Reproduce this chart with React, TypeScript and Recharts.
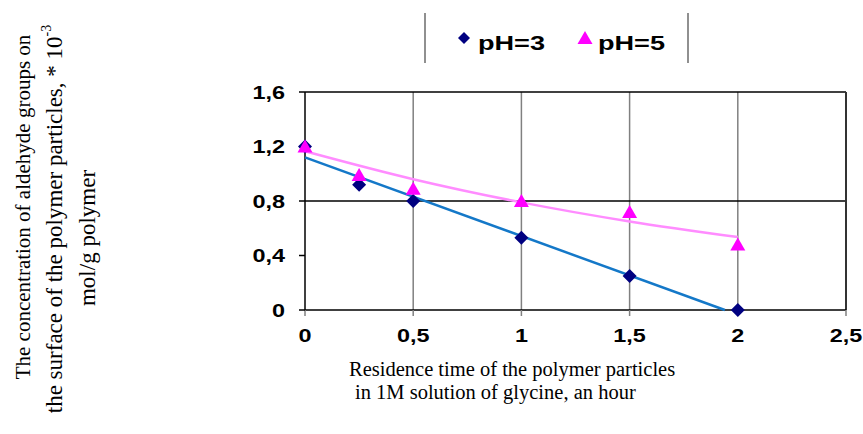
import React from "react";
import {
  CartesianGrid,
  Legend,
  ReferenceLine,
  Scatter,
  ScatterChart,
  XAxis,
  YAxis,
} from "recharts";

// residence time, hours
const times = [0, 0.25, 0.5, 1, 1.5, 2];
// aldehyde groups, *10^-3 mol/g
const ph3 = [1.2, 0.92, 0.8, 0.53, 0.25, 0];
const ph5 = [1.2, 0.99, 0.89, 0.8, 0.72, 0.48];

// trend lines
const fit3X = [0, 1.94];
const fit3Y = [1.12, 0];
const fit5X = [0, 0.5, 1, 1.5, 2];
const fit5Y = [1.165, 0.96, 0.79, 0.65, 0.535];

const xTicks = [0, 0.5, 1, 1.5, 2, 2.5];
const yTicks = [0, 0.4, 0.8, 1.2, 1.6];

const legendItems = [
  { name: "pH=3", marker: "diamond" },
  { name: "pH=5", marker: "triangle" },
];

const toPoints = (xs: number[], ys: number[]) => xs.map((x, i) => ({ x, y: ys[i] }));
const dataPh3 = toPoints(times, ph3);
const dataPh5 = toPoints(times, ph5);
const dataFit3 = toPoints(fit3X, fit3Y);
const dataFit5 = toPoints(fit5X, fit5Y);

const SANS = "'Liberation Sans', Arial, sans-serif";
const SERIF = "'Liberation Serif', 'Times New Roman', serif";
const NAVY = "#000080";
const MAGENTA = "#FF00FF";

const fmt = (v: number) => String(v).replace(".", ",");

const Diamond = (props: any) => {
  const { cx, cy } = props;
  const r = props.r ?? 7;
  return <polygon points={`${cx},${cy - r} ${cx + r},${cy} ${cx},${cy + r} ${cx - r},${cy}`} fill={NAVY} />;
};

const Triangle = (props: any) => {
  const { cx, cy } = props;
  return <polygon points={`${cx},${cy - 7} ${cx + 7.5},${cy + 6} ${cx - 7.5},${cy + 6}`} fill={MAGENTA} />;
};

const NoShape = () => <g />;

const XTick = (props: any) => {
  const { x, y, payload } = props;
  return (
    <g transform={`translate(${x},${y})`}>
      <text transform="scale(1.3,1)" textAnchor="middle" dy={22} fontFamily={SANS} fontWeight="bold" fontSize={18} fill="#000">
        {fmt(payload.value)}
      </text>
    </g>
  );
};

const YTick = (props: any) => {
  const { x, y, payload } = props;
  return (
    <g transform={`translate(${x},${y})`}>
      <text transform="scale(1.3,1)" textAnchor="end" dy={6.5} fontFamily={SANS} fontWeight="bold" fontSize={18} fill="#000">
        {fmt(payload.value)}
      </text>
    </g>
  );
};

const YTitle = () => (
  <g fontFamily={SERIF} fill="#000">
    <text transform="translate(23,207) rotate(-90)" textAnchor="middle" dominantBaseline="central" fontSize={21}>
      The concentration of aldehyde groups on
    </text>
    <text transform="translate(54,219) rotate(-90)" textAnchor="middle" dominantBaseline="central" fontSize={23}>
      the surface of the polymer particles, * 10
      <tspan dy={-8} fontSize={14}>-3</tspan>
    </text>
    <text transform="translate(87,238) rotate(-90)" textAnchor="middle" dominantBaseline="central" fontSize={23}>
      mol/g polymer
    </text>
  </g>
);

const XTitle = () => (
  <g fontFamily={SERIF} fontSize={20.5} fill="#000">
    <text x={349} y={376}>Residence time of the polymer particles</text>
    <text x={355} y={399}>in 1M solution of glycine, an hour</text>
  </g>
);

const LegendBox = () => (
  <svg width={280} height={60}>
    <line x1={5} y1={8} x2={5} y2={58} stroke="#909090" strokeWidth={2} />
    <line x1={268} y1={8} x2={268} y2={58} stroke="#909090" strokeWidth={2} />
    {legendItems.map((item, i) => {
      const mx = i === 0 ? 44 : 165;
      const tx = i === 0 ? 58 : 178;
      return (
        <g key={item.name}>
          {item.marker === "diamond" ? <Diamond cx={mx} cy={33} r={6} /> : <Triangle cx={mx} cy={33} />}
          <text x={tx} y={45} fontFamily={SANS} fontWeight="bold" fontSize={21} fill="#000" textLength={67} lengthAdjust="spacingAndGlyphs">
            {item.name}
          </text>
        </g>
      );
    })}
  </svg>
);

export default function App() {
  return (
    <div style={{ position: "absolute", left: 0, top: 0, background: "#fff" }}>
      <ScatterChart width={863} height={434} margin={{ top: 92, right: 17, bottom: 84, left: 245 }}>
        <CartesianGrid horizontal={false} verticalValues={[0.5, 1, 1.5, 2]} stroke="#808080" strokeWidth={1.5} />
        <CartesianGrid vertical={false} horizontalValues={[0.8, 1.6]} stroke="#000" strokeWidth={1.5} />
        <ReferenceLine x={2.5} stroke="#333" strokeWidth={2} />
        <XAxis
          type="number"
          dataKey="x"
          domain={[0, 2.5]}
          ticks={xTicks}
          interval={0}
          height={40}
          tickSize={6}
          tickMargin={4}
          axisLine={{ stroke: "#000", strokeWidth: 1.5 }}
          tickLine={{ stroke: "#808080", strokeWidth: 1.5 }}
          tick={<XTick />}
          label={{ content: () => <XTitle /> }}
        />
        <YAxis
          type="number"
          dataKey="y"
          domain={[0, 1.6]}
          ticks={yTicks}
          interval={0}
          width={60}
          tickSize={6}
          tickMargin={14}
          axisLine={{ stroke: "#000", strokeWidth: 1.5 }}
          tickLine={{ stroke: "#000", strokeWidth: 1.5 }}
          tick={<YTick />}
          label={{ content: () => <YTitle /> }}
        />
        <Legend
          layout="horizontal"
          verticalAlign="middle"
          content={() => <LegendBox />}
          wrapperStyle={{ left: 420, top: 5, width: 280, height: 60 }}
        />
        <Scatter name="trend pH=5" data={dataFit5} line={{ stroke: "#FF8CFF", strokeWidth: 2.5 }} lineJointType="monotoneX" shape={NoShape} legendType="none" isAnimationActive={false} />
        <Scatter name="trend pH=3" data={dataFit3} line={{ stroke: "#1478C8", strokeWidth: 2.5 }} shape={NoShape} legendType="none" isAnimationActive={false} />
        <Scatter name="pH=3" data={dataPh3} shape={Diamond} fill={NAVY} isAnimationActive={false} />
        <Scatter name="pH=5" data={dataPh5} shape={Triangle} fill={MAGENTA} isAnimationActive={false} />
      </ScatterChart>
    </div>
  );
}
